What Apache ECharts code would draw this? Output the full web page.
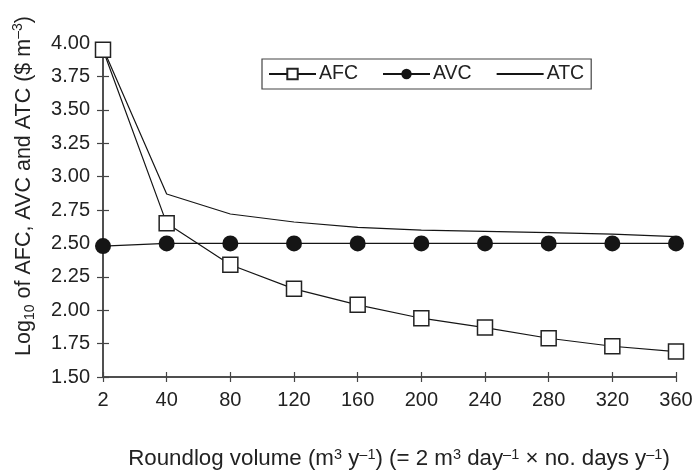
<!DOCTYPE html>
<html>
<head>
<meta charset="utf-8">
<script src="https://cdn.jsdelivr.net/npm/echarts@6/dist/echarts.min.js"></script>
<style>html,body{margin:0;padding:0;background:#fff}#c{width:698px;height:472px}</style>
</head>
<body>
<div id="c"></div>
<script>
const categories = ['2','40','80','120','160','200','240','280','320','360'];
const afc = [3.95, 2.65, 2.34, 2.16, 2.04, 1.94, 1.87, 1.79, 1.73, 1.69];
const avc = [2.48, 2.50, 2.50, 2.50, 2.50, 2.50, 2.50, 2.50, 2.50, 2.50];
const atc = [3.96, 2.87, 2.72, 2.66, 2.62, 2.60, 2.59, 2.58, 2.57, 2.55];
const yMin = 1.5, yMax = 4.0, yStep = 0.25;

const FONT = 'Liberation Sans, Arial, sans-serif';
const AX = '#444';
const LINE = '#151515';
const FS = 20;

const chart = echarts.init(document.getElementById('c'));
const baseY = {
  type: 'value', min: yMin, max: yMax, interval: yStep, position: 'left',
  splitLine: { show: false },
  axisLine: { show: true, lineStyle: { color: AX, width: 1.5 } }
};
const baseX = {
  type: 'category', data: categories, boundaryGap: false, position: 'bottom',
  splitLine: { show: false },
  axisLine: { show: true, lineStyle: { color: AX, width: 1.5 } }
};
chart.setOption({
  animation: false,
  backgroundColor: '#fff',
  grid: { left: 103, right: 22, top: 43, bottom: 95, containLabel: false },
  legend: {
    left: 262, top: 59,
    padding: [5, 7, 5, 6],
    borderColor: '#444', borderWidth: 1.2,
    itemWidth: 47, itemHeight: 13, itemGap: 24,
    textStyle: { fontFamily: FONT, fontSize: 19.5, color: '#222', padding: [0, 0, 0, -2] },
    data: ['AFC', 'AVC', { name: 'ATC', itemStyle: { opacity: 0 } }]
  },
  xAxis: [
    Object.assign({}, baseX, {
      axisTick: { show: true, length: 5, inside: false, alignWithLabel: true, lineStyle: { color: AX, width: 1.2 } },
      axisLabel: { fontFamily: FONT, fontSize: FS, color: '#222', margin: 13 }
    }),
    Object.assign({}, baseX, {
      axisTick: { show: true, length: 5, inside: true, lineStyle: { color: AX, width: 1.2 } },
      axisLabel: { show: false }
    })
  ],
  yAxis: [
    Object.assign({}, baseY, {
      axisTick: { show: true, length: 6, inside: false, lineStyle: { color: AX, width: 1.2 } },
      axisLabel: { fontFamily: FONT, fontSize: FS, color: '#222', margin: 13,
        formatter: v => v.toFixed(2) }
    }),
    Object.assign({}, baseY, {
      axisTick: { show: true, length: 6, inside: true, lineStyle: { color: AX, width: 1.2 } },
      axisLabel: { show: false }
    })
  ],
  series: [
    {
      name: 'ATC', type: 'line', data: atc, symbol: 'none',
      lineStyle: { color: LINE, width: 1.2 }, itemStyle: { color: LINE }, z: 2
    },
    {
      name: 'AVC', type: 'line', data: avc, symbol: 'circle', symbolSize: 16,
      lineStyle: { color: LINE, width: 1.2 }, itemStyle: { color: LINE }, z: 3
    },
    {
      name: 'AFC', type: 'line', data: afc, symbol: 'rect', symbolSize: 15,
      lineStyle: { color: LINE, width: 1.2 },
      itemStyle: { color: '#fff', borderColor: '#222', borderWidth: 1.5 }, z: 4
    }
  ],
  graphic: [
    {
      type: 'text', x: 399, y: 459,
      style: {
        text: '{n|Roundlog volume (m}{s|3}{n| y}{s|–1}{n|) (= 2 m}{s|3}{n| day}{s|–1}{n| × no. days y}{s|–1}{n|)}',
        align: 'center', verticalAlign: 'middle', textAlign: 'center', textVerticalAlign: 'middle',
        fill: '#222',
        rich: {
          n: { fontFamily: FONT, fontSize: 22.3, lineHeight: 24, color: '#222' },
          s: { fontFamily: FONT, fontSize: 14.5, lineHeight: 14, verticalAlign: 'top', color: '#222' }
        }
      }
    },
    {
      type: 'text', x: 24, y: 186, rotation: Math.PI / 2,
      style: {
        text: '{n|Log}{b|10}{n| of AFC, AVC and ATC ($ m}{s|–3}{n|)}',
        align: 'center', verticalAlign: 'middle', textAlign: 'center', textVerticalAlign: 'middle',
        fill: '#222',
        rich: {
          n: { fontFamily: FONT, fontSize: 21.5, lineHeight: 26, color: '#222' },
          b: { fontFamily: FONT, fontSize: 14, lineHeight: 14, verticalAlign: 'bottom', color: '#222' },
          s: { fontFamily: FONT, fontSize: 14, lineHeight: 14, verticalAlign: 'top', color: '#222' }
        }
      }
    }
  ]
});
</script>
</body>
</html>
